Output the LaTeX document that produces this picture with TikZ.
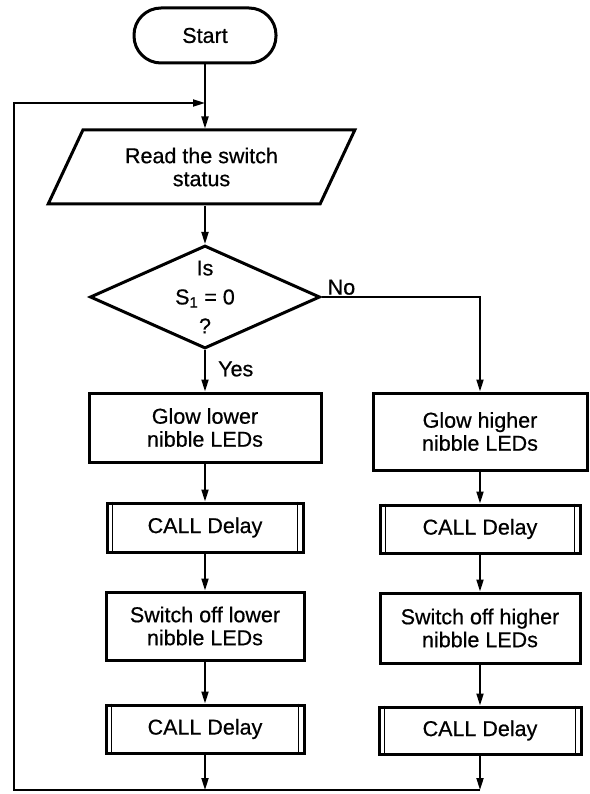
\documentclass[tikz,border=0pt]{standalone}
\usepackage{fontspec}
\setmainfont{Liberation Sans}
\newfontfamily\chartfont{Liberation Sans}[FakeBold=0.6]
\usetikzlibrary{shapes.geometric, arrows.meta, positioning}

\tikzset{
  chart/.style={draw, line width=3pt, align=center, inner sep=0pt, font=\chartfont\fontsize{21.5}{23}\selectfont},
  term/.style={chart, rounded corners=27pt, minimum width=142pt, minimum height=55pt},
  io/.style={chart, trapezium, trapezium left angle=60, trapezium right angle=120,
    trapezium stretches=true, minimum width=307pt, minimum height=74pt},
  decision/.style={chart, diamond, minimum width=230pt, minimum height=103pt},
  procbox/.style={chart, rectangle},
  callbox/.style={chart, rectangle},
  flow/.style={line width=1.9pt},
  arrow/.style={flow, -{Triangle[length=12pt,width=7pt]}},
  lbl/.style={inner sep=0pt, font=\chartfont\fontsize{21.5}{23}\selectfont},
  subline/.style={line width=1.5pt}
}

\begin{document}
\begin{tikzpicture}[x=1pt, y=-1pt]
\useasboundingbox (0,0) rectangle (589,794);

% --- START AND INPUT ---
\node[term] (start) at (205,35.5) {Start};
\coordinate (join) at (205,103);
\node[io] (read) at (201.5,167) {Read the switch\\status};

% --- DECISION ---
\node[decision] (test) at (205,297) {};
\node[lbl, align=center, font=\chartfont\fontsize{21.5}{29}\selectfont] (testtext) at (test.center) {Is\\S\textsubscript{1} = 0\\?};
\node[lbl, anchor=south west] (no) at ([xshift=6pt,yshift=2pt]test.east) {No};
\node[lbl, anchor=west] (yes) at ([xshift=13pt,yshift=-19pt]test.south) {Yes};

% --- LEFT BRANCH ---
\node[procbox, minimum width=232pt, minimum height=69pt] (glowlo) at (205,427.5) {Glow lower\\nibble LEDs};
\node[callbox, minimum width=196pt, minimum height=49pt] (calllo1) at (205,527.5) {CALL Delay};
\node[procbox, minimum width=198pt, minimum height=68pt] (offlo) at (205,626) {Switch off lower\\nibble LEDs};
\node[callbox, minimum width=198pt, minimum height=48pt] (calllo2) at (205,729) {CALL Delay};

% --- RIGHT BRANCH ---
\node[procbox, minimum width=214pt, minimum height=77pt] (glowhi) at (480,431.5) {Glow higher\\nibble LEDs};
\node[callbox, minimum width=200pt, minimum height=48pt] (callhi1) at (480,529) {CALL Delay};
\node[procbox, minimum width=200pt, minimum height=70pt] (offhi) at (480,628) {Switch off higher\\nibble LEDs};
\node[callbox, minimum width=202pt, minimum height=47pt] (callhi2) at (480,730.5) {CALL Delay};

% subroutine side bars
\foreach \b in {calllo1,calllo2,callhi1,callhi2} {
  \draw[subline] ([xshift=7pt]\b.north west) -- ([xshift=7pt]\b.south west);
  \draw[subline] ([xshift=-7pt]\b.north east) -- ([xshift=-7pt]\b.south east);
}

% --- RETURN PATH ---
\coordinate (backR) at (480,790);
\coordinate (backL) at (14,790);
\coordinate (backT) at (14,103);

% --- CONNECTORS ---
\draw[flow] (start) -- (join);
\draw[arrow] (join) -- (join |- read.north);
\draw[arrow] (test.north |- read.south) -- (test);
\draw[arrow] (test) -- (glowlo);
\draw[arrow] (test.east) -| (glowhi.north);
\draw[arrow] (glowlo) -- (calllo1);
\draw[arrow] (calllo1) -- (offlo);
\draw[arrow] (offlo) -- (calllo2);
\draw[arrow] (glowhi) -- (callhi1);
\draw[arrow] (callhi1) -- (offhi);
\draw[arrow] (offhi) -- (callhi2);
\draw[arrow] (calllo2) -- (calllo2 |- backL);
\draw[arrow] (callhi2) -- (backR);
\draw[arrow] (backR) -- (backL) -- (backT) -- (join);

\end{tikzpicture}
\end{document}
